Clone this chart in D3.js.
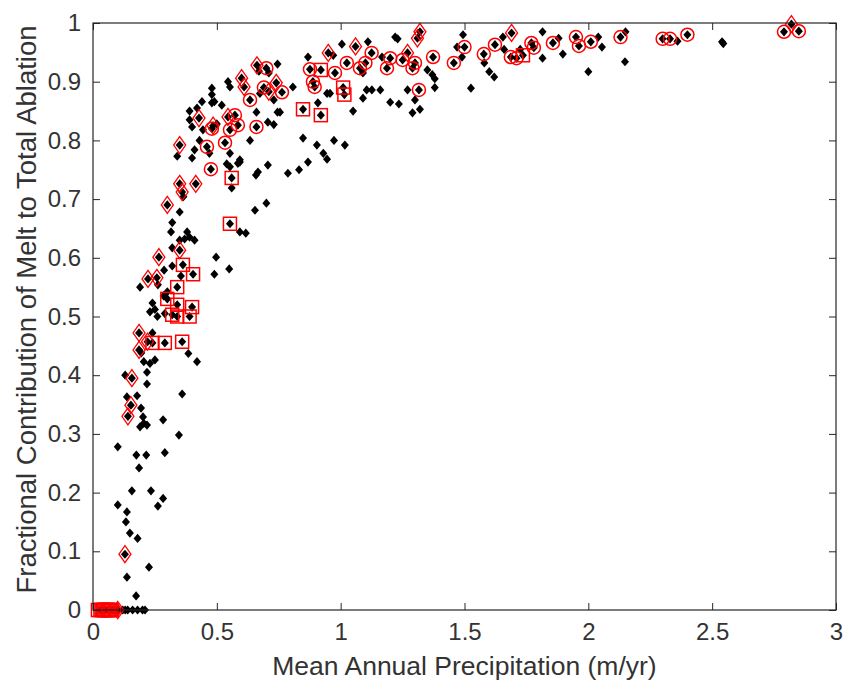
<!DOCTYPE html>
<html>
<head>
<meta charset="utf-8">
<script src="https://cdn.jsdelivr.net/npm/d3@7"></script>
<style>
  html, body { margin: 0; padding: 0; background: #fff; }
  svg text { font-family: "Liberation Sans", Arial, sans-serif; fill: #333; }
</style>
</head>
<body>
<svg id="chart" width="844" height="680"></svg>
<script>
// ---- data ----
const xTicks = [0, 0.5, 1, 1.5, 2, 2.5, 3];
const yTicks = [0, 0.1, 0.2, 0.3, 0.4, 0.5, 0.6, 0.7, 0.8, 0.9, 1];
const xLabel = "Mean Annual Precipitation (m/yr)";
const yLabel = "Fractional Contribution of Melt to Total Ablation";

// all glaciers (black diamonds): [precip, fraction]
const allPoints = [
  [0.03,0],[0.04,0],[0.05,0],[0.06,0],[0.07,0],[0.08,0],[0.09,0],[0.10,0],[0.12,0],[0.13,0],[0.14,0],[0.16,0],[0.18,0],[0.2,0],[0.21,0],
  [0.10,0.278],[0.175,0.264],[0.215,0.264],[0.29,0.268],[0.186,0.242],[0.157,0.203],[0.234,0.203],[0.283,0.19],[0.262,0.177],
  [0.10,0.179],[0.137,0.167],[0.133,0.15],[0.149,0.131],[0.18,0.122],[0.129,0.095],[0.226,0.073],[0.137,0.056],[0.174,0.024],
  [0.347,0.298],[0.19,0.312],[0.218,0.315],[0.205,0.318],[0.202,0.329],[0.283,0.324],[0.141,0.33],[0.194,0.344],[0.153,0.349],
  [0.137,0.363],[0.178,0.365],[0.36,0.368],[0.218,0.385],[0.157,0.395],[0.13,0.40],[0.218,0.405],[0.25,0.426],[0.23,0.42],
  [0.205,0.423],[0.42,0.423],[0.385,0.437],[0.186,0.443],[0.195,0.438],[0.22,0.457],[0.24,0.455],[0.29,0.455],[0.36,0.457],
  [0.24,0.472],[0.186,0.472],[0.34,0.50],[0.32,0.503],[0.39,0.50],[0.23,0.508],[0.24,0.523],[0.25,0.512],[0.30,0.53],
  [0.34,0.52],[0.40,0.516],[0.29,0.505],[0.30,0.542],[0.285,0.535],[0.26,0.5],
  [0.19,0.55],[0.262,0.554],[0.34,0.55],[0.222,0.564],[0.258,0.566],[0.287,0.579],[0.32,0.586],[0.355,0.569],[0.363,0.588],
  [0.404,0.572],[0.49,0.572],[0.55,0.581],[0.497,0.601],[0.266,0.601],[0.35,0.613],[0.32,0.617],[0.35,0.63],[0.41,0.63],
  [0.39,0.635],[0.37,0.632],[0.315,0.644],[0.38,0.644],[0.593,0.644],[0.617,0.642],[0.553,0.658],[0.32,0.66],[0.654,0.681],
  [0.70,0.693],[0.35,0.678],[0.30,0.69],
  [0.365,0.704],[0.36,0.712],[0.35,0.726],[0.415,0.726],[0.56,0.719],[0.56,0.736],[0.553,0.755],[0.54,0.76],[0.585,0.761],
  [0.593,0.763],[0.476,0.751],[0.658,0.741],[0.787,0.744],[0.832,0.75],[0.868,0.763],[0.35,0.792],[0.34,0.773],[0.40,0.77],
  [0.41,0.784],[0.43,0.80],[0.46,0.789],[0.47,0.778],[0.533,0.796],[0.553,0.778],[0.593,0.767],[0.634,0.80],[0.848,0.804],
  [0.904,0.792],[0.93,0.778],[0.973,0.80],[1.017,0.792],[0.945,0.768],[0.706,0.758],[0.666,0.746],
  [0.428,0.838],[0.39,0.835],[0.40,0.823],[0.444,0.818],[0.48,0.82],[0.485,0.825],[0.50,0.828],[0.545,0.84],[0.573,0.843],
  [0.585,0.826],[0.553,0.818],[0.66,0.823],[0.706,0.831],[0.66,0.848],[0.48,0.864],[0.49,0.866],[0.44,0.866],[0.48,0.889],
  [0.48,0.878],[0.545,0.90],[0.553,0.891],[0.60,0.906],[0.61,0.891],[0.634,0.869],[0.674,0.88],[0.69,0.89],[0.71,0.883],
  [0.74,0.898],[0.73,0.869],[0.745,0.848],[0.755,0.848],[0.73,0.827],[0.763,0.882],[0.807,0.891],[0.848,0.853],[0.92,0.843],
  [0.908,0.864],[0.957,0.88],[0.945,0.88],[1.01,0.89],[1.015,0.878],[1.05,0.85],[1.09,0.872],[1.105,0.886],[1.126,0.886],
  [1.16,0.886],[1.20,0.865],[1.235,0.862],[1.29,0.847],[1.32,0.853],[1.30,0.869],[1.27,0.886],[1.316,0.886],[1.38,0.89],
  [1.526,0.889],[0.888,0.90],[0.895,0.891],[0.39,0.85],[0.42,0.855],[0.52,0.86],
  [0.662,0.928],[0.67,0.918],[0.70,0.923],[0.71,0.915],[0.745,0.93],[0.876,0.921],[0.868,0.942],[0.92,0.92],[0.95,0.949],
  [0.97,0.945],[0.977,0.915],[1.005,0.964],[1.025,0.932],[1.06,0.96],[1.078,0.923],[1.10,0.932],[1.11,0.968],[1.125,0.949],
  [1.09,0.915],[1.167,0.942],[1.187,0.923],[1.20,0.94],[1.22,0.976],[1.23,0.973],[1.25,0.937],[1.27,0.949],[1.29,0.923],
  [1.30,0.932],[1.31,0.974],[1.32,0.985],[1.373,0.942],[1.35,0.92],[1.37,0.912],[1.38,0.905],[1.494,0.98],[1.50,0.959],
  [1.47,0.959],[1.457,0.932],[1.49,0.942],[1.578,0.947],[1.623,0.963],[1.58,0.932],[1.60,0.917],[1.62,0.908],[1.66,0.955],
  [1.655,0.976],[1.69,0.983],[1.687,0.942],[1.71,0.94],[1.736,0.945],[1.725,0.955],[1.77,0.966],[1.78,0.958],[1.815,0.985],
  [1.815,0.94],[1.857,0.966],[1.88,0.974],[1.897,0.947],[1.95,0.976],[1.962,0.961],[2.0,0.917],[2.01,0.968],[2.04,0.976],
  [2.055,0.959],[2.13,0.976],[2.15,0.985],[2.148,0.934],[2.30,0.973],[2.33,0.973],[2.36,0.969],[2.40,0.98],[2.54,0.968],
  [2.545,0.965],[2.79,0.985],[2.82,0.998],[2.85,0.986]
];

// red circles
const circlePoints = [
  [0.085,0],[0.476,0.751],[0.46,0.789],[0.533,0.796],[0.48,0.82],[0.573,0.843],[0.585,0.826],[0.553,0.818],[0.66,0.823],
  [0.634,0.869],[0.70,0.923],[0.69,0.89],[0.763,0.882],[0.876,0.921],[0.977,0.915],[0.888,0.90],[0.895,0.891],[1.025,0.932],
  [1.125,0.949],[1.10,0.932],[1.078,0.923],[1.187,0.923],[1.20,0.94],[1.25,0.937],[1.29,0.923],[1.30,0.932],[1.373,0.942],
  [1.316,0.886],[1.50,0.959],[1.457,0.932],[1.578,0.947],[1.623,0.963],[1.687,0.942],[1.71,0.94],[1.77,0.966],[1.78,0.958],
  [1.857,0.966],[1.95,0.976],[1.962,0.961],[2.01,0.968],[2.13,0.976],[2.30,0.973],[2.33,0.973],[2.40,0.98],[2.79,0.985],
  [2.85,0.986]
];

// red diamonds
const diamondPoints = [
  [0.10,0],[0.129,0.095],[0.141,0.33],[0.153,0.349],[0.157,0.395],[0.186,0.443],[0.186,0.472],[0.22,0.457],[0.222,0.564],
  [0.258,0.566],[0.266,0.601],[0.30,0.69],[0.35,0.613],[0.35,0.726],[0.36,0.712],[0.415,0.726],[0.35,0.792],[0.428,0.838],
  [0.545,0.84],[0.60,0.906],[0.61,0.891],[0.662,0.928],[0.71,0.883],[0.95,0.949],[1.06,0.96],[1.27,0.949],[1.31,0.974],
  [1.32,0.985],[1.69,0.983],[2.82,0.998],[0.485,0.825],[0.74,0.898]
];

// red squares
const squarePoints = [
  [0.02,0],[0.03,0],[0.035,0],[0.04,0],[0.045,0],[0.05,0],[0.055,0],[0.06,0],[0.065,0],[0.07,0],[0.075,0],
  [0.34,0.55],[0.363,0.588],[0.404,0.572],[0.30,0.53],[0.34,0.52],[0.40,0.516],[0.32,0.503],[0.34,0.50],[0.39,0.50],
  [0.24,0.455],[0.29,0.455],[0.36,0.457],[0.56,0.736],[0.553,0.658],[0.848,0.853],[0.92,0.843],[0.92,0.92],[1.01,0.89],
  [1.015,0.878],[1.736,0.945]
];

// ---- chart ----
const svg = d3.select("#chart");
const L = 93, R = 836, T = 23, B = 610;
const x = d3.scaleLinear().domain([0, 3]).range([L, R]);
const y = d3.scaleLinear().domain([0, 1]).range([B, T]);
const axisColor = "#262626";
const textColor = "#333";
const tickLen = 7;

svg.append("rect").attr("x", L).attr("y", T).attr("width", R - L).attr("height", B - T)
  .attr("fill", "#fff");

const plot = svg.append("g");

// black diamonds
plot.selectAll("path.all").data(allPoints).enter().append("path")
  .attr("class", "all")
  .attr("d", "M0,-4.6L4,0L0,4.6L-4,0Z")
  .attr("transform", d => `translate(${x(d[0])},${y(d[1])})`)
  .attr("fill", "#000").attr("stroke", "none");

// red squares
plot.selectAll("rect.sq").data(squarePoints).enter().append("rect")
  .attr("class", "sq")
  .attr("x", d => x(d[0]) - 6.5).attr("y", d => y(d[1]) - 6.5)
  .attr("width", 13).attr("height", 13)
  .attr("fill", "none").attr("stroke", "#ff0000").attr("stroke-width", 1.5);

// red circles
plot.selectAll("circle.ci").data(circlePoints).enter().append("circle")
  .attr("class", "ci")
  .attr("cx", d => x(d[0])).attr("cy", d => y(d[1])).attr("r", 6.5)
  .attr("fill", "none").attr("stroke", "#ff0000").attr("stroke-width", 1.5);

// red diamonds
plot.selectAll("path.di").data(diamondPoints).enter().append("path")
  .attr("class", "di")
  .attr("d", "M0,-8.5L6,0L0,8.5L-6,0Z")
  .attr("transform", d => `translate(${x(d[0])},${y(d[1])})`)
  .attr("fill", "none").attr("stroke", "#ff0000").attr("stroke-width", 1.3);

// axes with inward ticks (box)
const axB = d3.axisBottom(x).tickValues(xTicks).tickSizeInner(-tickLen).tickSizeOuter(0)
  .tickPadding(13).tickFormat(d3.format("~g"));
const axT = d3.axisTop(x).tickValues(xTicks).tickSizeInner(-tickLen).tickSizeOuter(0).tickFormat("");
const axL = d3.axisLeft(y).tickValues(yTicks).tickSizeInner(-tickLen).tickSizeOuter(0)
  .tickPadding(12).tickFormat(d3.format("~g"));
const axRt = d3.axisRight(y).tickValues(yTicks).tickSizeInner(-tickLen).tickSizeOuter(0).tickFormat("");

function styleAxis(g) {
  g.selectAll(".domain").remove();
  g.selectAll("line").attr("stroke", axisColor).attr("stroke-width", 1);
  g.selectAll("text").attr("font-size", 24).attr("fill", textColor)
    .style("font-family", "'Liberation Sans', Arial, sans-serif");
}
svg.append("g").attr("transform", `translate(0,${B})`).call(axB).call(styleAxis);
svg.append("g").attr("transform", `translate(0,${T})`).call(axT).call(styleAxis);
svg.append("g").attr("transform", `translate(${L},0)`).call(axL).call(styleAxis);
svg.append("g").attr("transform", `translate(${R},0)`).call(axRt).call(styleAxis);

// frame
svg.append("rect").attr("x", L).attr("y", T).attr("width", R - L).attr("height", B - T)
  .attr("fill", "none").attr("stroke", axisColor).attr("stroke-width", 1.2);

// labels
svg.append("text").attr("x", (L + R) / 2).attr("y", 675)
  .attr("text-anchor", "middle").attr("font-size", 26.5).attr("fill", textColor).text(xLabel);
svg.append("text")
  .attr("transform", `translate(36,${(T + B) / 2 - 7}) rotate(-90)`)
  .attr("text-anchor", "middle").attr("font-size", 27.5).attr("fill", textColor).text(yLabel);
</script>
</body>
</html>
